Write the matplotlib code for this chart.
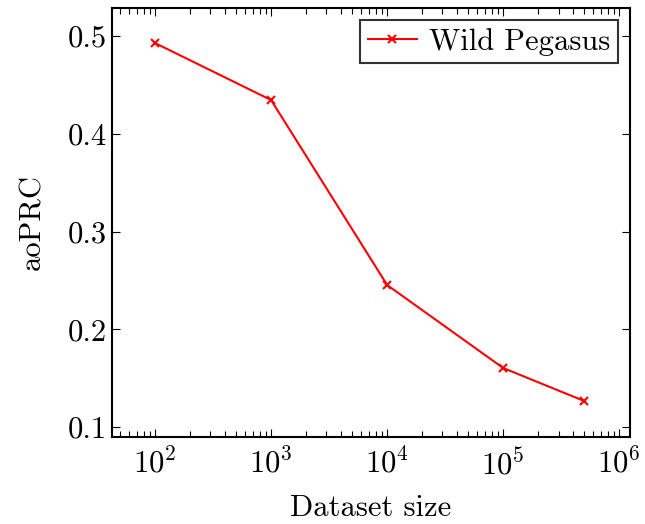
import matplotlib
matplotlib.use("Agg")
import matplotlib.pyplot as plt
from matplotlib.ticker import FixedLocator, LogLocator, NullFormatter

# data
dataset_size = [1e2, 1e3, 1e4, 1e5, 5e5]
aoprc = [0.4928, 0.4345, 0.2453, 0.1604, 0.1266]

plt.rcParams['font.family'] = 'serif'
plt.rcParams['font.serif'] = ['cmr10']
plt.rcParams['mathtext.fontset'] = 'cm'
plt.rcParams['axes.formatter.use_mathtext'] = True
plt.rcParams['axes.unicode_minus'] = False

fig = plt.figure(figsize=(6.45, 5.24), dpi=100)
ax = fig.add_axes([112 / 645, 1 - 437 / 524, 518 / 645, 429 / 524])

ax.plot(dataset_size, aoprc, color='red', marker='x', markersize=5.5,
        markeredgewidth=1.5, linewidth=1.5, label='Wild Pegasus')

ax.set_xscale('log')
ax.set_xlim(42.5, 1.24e6)
ax.set_ylim(0.0898, 0.5287)
ax.set_yticks([0.1, 0.2, 0.3, 0.4, 0.5])
ax.set_yticklabels(['0.1', '0.2', '0.3', '0.4', '0.5'])
ax.xaxis.set_major_locator(LogLocator(base=10, numticks=100))
minor = [k * 10.0 ** e for e in range(1, 7) for k in range(2, 10)]
ax.xaxis.set_minor_locator(FixedLocator(minor))
ax.xaxis.set_minor_formatter(NullFormatter())

ax.tick_params(which='both', direction='in', top=True, right=True, labelsize=22)
ax.tick_params(which='major', length=6, width=0.8)
ax.tick_params(which='minor', length=4, width=0.8)
ax.tick_params(axis='x', which='major', pad=8)
for s in ax.spines.values():
    s.set_linewidth(1.5)

ax.set_xlabel('Dataset size', fontsize=22, labelpad=10)
ax.set_ylabel('aoPRC', fontsize=22, labelpad=16)

leg = ax.legend(loc='upper right', fontsize=22, frameon=True, fancybox=False,
                edgecolor='black', borderaxespad=0.4, handlelength=1.6,
                handletextpad=0.4, borderpad=0.25)
leg.get_frame().set_linewidth(1.5)

fig.savefig('out.png', dpi=100)
